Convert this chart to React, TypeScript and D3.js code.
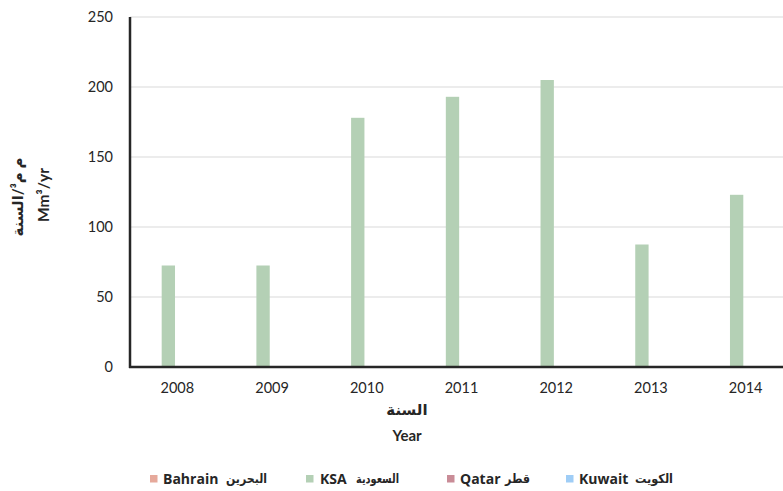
import React from 'react';
import * as d3 from 'd3';

const years = ['2008', '2009', '2010', '2011', '2012', '2013', '2014'];
const seriesKeys = ['Bahrain', 'KSA', 'Qatar', 'Kuwait'];
const seriesArabic = ['البحرين', 'السعودية', 'قطر', 'الكويت'];
const seriesColors = ['#e6a99b', '#b4d0b5', '#c98c97', '#9fcdf6'];
const bahrain: (number | null)[] = [null, null, null, null, null, null, null];
const ksa: (number | null)[] = [72.5, 72.5, 178, 193, 205, 87.5, 123];
const qatar: (number | null)[] = [null, null, null, null, null, null, null];
const kuwait: (number | null)[] = [null, null, null, null, null, null, null];
const yTicks = [0, 50, 100, 150, 200, 250];

const W = 783;
const H = 491;
const FONT = 'Lato, "Open Sans", "DejaVu Sans", sans-serif';
const LEGEND_FONT = '"Open Sans", "DejaVu Sans", sans-serif';

export default function App() {
  const seriesValues = [bahrain, ksa, qatar, kuwait];
  const x0 = d3.scaleBand<string>().domain(years).range([130, 793]).padding(0);
  const bw = x0.bandwidth();
  const x1 = d3
    .scaleBand<string>()
    .domain(seriesKeys)
    .range([bw / 2 - 33.7, bw / 2 + 33.7])
    .paddingInner(0.26)
    .paddingOuter(0);
  const y = d3.scaleLinear().domain([0, 250]).range([367, 17]);

  const legendX = [150, 306, 447, 566];
  const legendEnX = [163, 320, 460, 579];
  const legendArX = [267, 399, 530, 673];
  const legendArW = [41, 43, 25, 38];

  return (
    <svg
      width={W}
      height={H}
      viewBox={`0 0 ${W} ${H}`}
      style={{ position: 'absolute', left: 0, top: 0, display: 'block', overflow: 'hidden', background: '#fff' }}
      fontFamily={FONT}
    >
      {/* gridlines */}
      {yTicks.filter((t) => t > 0).map((t) => (
        <line key={t} x1={130} x2={W} y1={y(t)} y2={y(t)} stroke="#d9d9d9" strokeWidth={1} />
      ))}
      {/* bars */}
      {years.map((yr, i) => (
        <g key={yr} transform={`translate(${x0(yr)},0)`}>
          {seriesKeys.map((s, si) => {
            const v = seriesValues[si][i];
            if (v == null) return null;
            return (
              <rect
                key={s}
                x={x1(s)}
                y={y(v)}
                width={x1.bandwidth()}
                height={y(0) - y(v)}
                fill={seriesColors[si]}
              />
            );
          })}
        </g>
      ))}
      {/* axes */}
      <line x1={130} x2={130} y1={y(250)} y2={y(0) + 1} stroke="#262626" strokeWidth={2.5} />
      <line x1={129} x2={W} y1={y(0)} y2={y(0)} stroke="#262626" strokeWidth={2.5} />
      {/* y tick labels */}
      {yTicks.map((t) => (
        <text key={t} x={113} y={y(t)} dy="0.35em" textAnchor="end" fontSize={14.5} fill="#262626">
          {t}
        </text>
      ))}
      {/* x tick labels */}
      {years.map((yr) => (
        <text key={yr} x={(x0(yr) as number) + bw / 2} y={388} dy="0.35em" textAnchor="middle" fontSize={14.5} fill="#262626">
          {yr}
        </text>
      ))}
      {/* x title */}
      <text x={407} y={410} dy="0.35em" textAnchor="middle" fontSize={15} fontWeight="bold" fill="#262626">
        السنة
      </text>
      <text x={407} y={436} dy="0.35em" textAnchor="middle" fontSize={15} fontWeight="bold" fill="#262626">
        Year
      </text>
      {/* y title */}
      <text transform="translate(18,197) rotate(-90)" dy="0.35em" textAnchor="middle" fontSize={15} fontWeight="bold" fill="#262626" direction="rtl">
        م م³/السنة
      </text>
      <text transform="translate(44,195) rotate(-90)" dy="0.35em" textAnchor="middle" fontSize={15.5} fontWeight="bold" fill="#262626">
        Mm³/yr
      </text>
      {/* legend */}
      {seriesKeys.map((s, i) => (
        <g key={s}>
          <rect x={legendX[i]} y={475} width={7.5} height={7.5} fill={seriesColors[i]} />
          <text x={legendEnX[i]} y={479} dy="0.35em" fontFamily={LEGEND_FONT} fontSize={14} fontWeight="bold" fill="#262626">
            {s}
          </text>
          <text
            x={legendArX[i] - legendArW[i]}
            y={479}
            dy="0.35em"
            textLength={legendArW[i]}
            lengthAdjust="spacingAndGlyphs"
            fontFamily={LEGEND_FONT}
            fontSize={12.5}
            fontWeight="bold"
            fill="#262626"
          >
            {seriesArabic[i]}
          </text>
        </g>
      ))}
    </svg>
  );
}
